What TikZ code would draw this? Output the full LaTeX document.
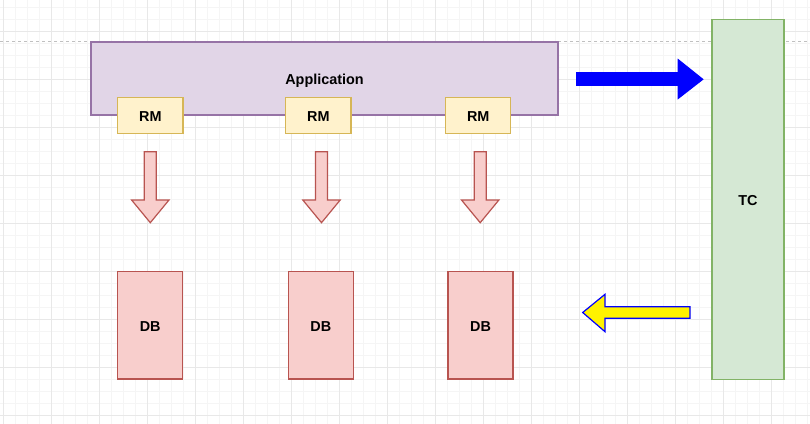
\documentclass[tikz,border=0pt]{standalone}
\usepackage{fontspec}
\setmainfont{Liberation Sans}
\usepackage{tikz}

\definecolor{appfill}{HTML}{E1D5E7}
\definecolor{appline}{HTML}{9673A6}
\definecolor{rmfill}{HTML}{FFF2CC}
\definecolor{rmline}{HTML}{D6B656}
\definecolor{dbfill}{HTML}{F8CECC}
\definecolor{dbline}{HTML}{B85450}
\definecolor{tcfill}{HTML}{D5E8D4}
\definecolor{tcline}{HTML}{82B366}
\definecolor{gridminor}{HTML}{F5F5F5}
\definecolor{gridmajor}{HTML}{E8E8E8}
\definecolor{pageline}{HTML}{C0C0C0}

\tikzset{
  box/.style={shape=rectangle, line width=0.9pt, inner sep=0pt,
    text height=9.5pt, text depth=0pt,
    font=\fontsize{10.8}{12}\selectfont\bfseries},
  appbox/.style={box, draw=appline, fill=appfill},
  rmbox/.style={box, draw=rmline, fill=rmfill, minimum width=49pt, minimum height=27pt},
  dbbox/.style={box, draw=dbline, fill=dbfill, minimum width=48.75pt, minimum height=80.5pt},
  tcbox/.style={box, draw=tcline, fill=tcfill},
  downarrow/.style={draw=dbline, fill=dbfill, line width=0.9pt, line join=miter},
}

\begin{document}
\begin{tikzpicture}[x=0.75pt, y=-0.75pt]
\useasboundingbox (0,0) rectangle (810,424);
\fill[white] (0,0) rectangle (810,424);

% grid
\foreach \gx in {3.7,15.7,...,810} \draw[gridminor, line width=0.75pt] (\gx,0) -- (\gx,424);
\foreach \gy in {7.5,19.5,...,424} \draw[gridminor, line width=0.75pt] (0,\gy) -- (810,\gy);
\foreach \gx in {3.7,51.7,...,810} \draw[gridmajor, line width=0.75pt] (\gx,0) -- (\gx,424);
\foreach \gy in {31.5,79.5,...,424} \draw[gridmajor, line width=0.75pt] (0,\gy) -- (810,\gy);
\draw[pageline, line width=0.75pt, dash pattern=on 2.25pt off 2.25pt] (0,42) -- (810,42);

\node[appbox, minimum width=350.25pt, minimum height=54.75pt] (app) at (324.5,78.5) {Application};
\node[tcbox, minimum width=54pt, minimum height=270.5pt] (tc) at (748,199.5) {TC};

\node[rmbox] (rm1) at (150.3,115.3) {RM};
\node[rmbox] (rm2) at (318.3,115.3) {RM};
\node[rmbox] (rm3) at (478.2,115.3) {RM};

\node[dbbox] (db1) at (150.2,325.3) {DB};
\node[dbbox] (db2) at (320.8,325.3) {DB};
\node[dbbox] (db3) at (480.5,325.3) {DB};

% block arrows
\foreach \ax in {150.3,321.5,480.2}
  \draw[downarrow] (\ax-6,151.7) -- (\ax+6,151.7) -- (\ax+6,200) -- (\ax+18.7,200)
    -- (\ax,222.7) -- (\ax-18.7,200) -- (\ax-6,200) -- cycle;

\draw[draw=blue, fill=blue, line width=0.9pt, line join=miter]
  (576.7,72.8) -- (678.3,72.8) -- (678.3,59.8) -- (702.7,79.3) -- (678.3,98.3)
  -- (678.3,85.3) -- (576.7,85.3) -- cycle;

\draw[draw=blue, fill=yellow, line width=0.9pt, line join=miter]
  (690,306.7) -- (605,306.7) -- (605,294.3) -- (582.7,312.5) -- (605,331.7)
  -- (605,318.3) -- (690,318.3) -- cycle;

\end{tikzpicture}
\end{document}
